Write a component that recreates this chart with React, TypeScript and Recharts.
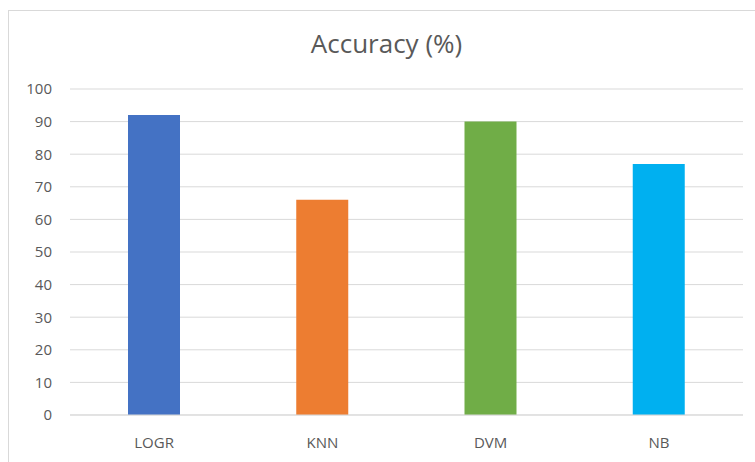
import React from "react";
import { BarChart, Bar, XAxis, YAxis, CartesianGrid, Cell } from "recharts";

const categories = ["LOGR", "KNN", "DVM", "NB"];
const accuracy = [92, 66, 90, 77];
const colors = ["#4472C4", "#ED7D31", "#70AD47", "#00B0F0"];
const yTicks = [0, 10, 20, 30, 40, 50, 60, 70, 80, 90, 100];

const data = categories.map((name, i) => ({ name, value: accuracy[i] }));

const font = "'Open Sans', 'Liberation Sans', sans-serif";

export default function App() {
  return (
    <div style={{ position: "absolute", left: 0, top: 0, width: 755, height: 462, background: "#fff", fontFamily: font }}>
      <div
        style={{
          position: "absolute",
          left: 8,
          top: 10,
          width: 760,
          height: 460,
          borderLeft: "1px solid #d9d9d9",
          borderTop: "1px solid #d9d9d9",
        }}
      />
      <div
        style={{
          position: "absolute",
          left: 0,
          top: 25,
          width: 773,
          textAlign: "center",
          fontSize: 26,
          lineHeight: "normal",
          color: "#595959",
        }}
      >
        Accuracy (%)
      </div>
      <div style={{ position: "absolute", left: 0, top: 0 }}>
        <BarChart
          width={755}
          height={462}
          data={data}
          margin={{ top: 89, right: 12, bottom: 17, left: 30 }}
          barSize={52}
        >
          <CartesianGrid vertical={false} stroke="#d9d9d9" strokeWidth={1} />
          <XAxis
            dataKey="name"
            axisLine={{ stroke: "#d9d9d9" }}
            tickLine={false}
            tickSize={0}
            tickMargin={22}
            height={30}
            tick={{ fill: "#595959", fontSize: 15, fontFamily: font }}
          />
          <YAxis
            domain={[0, 100]}
            ticks={yTicks}
            interval={0}
            axisLine={false}
            tickLine={false}
            tickSize={0}
            tickMargin={18}
            width={40}
            tick={{ fill: "#595959", fontSize: 15, fontFamily: font }}
          />
          <Bar dataKey="value" isAnimationActive={false}>
            {data.map((d, i) => (
              <Cell key={d.name} fill={colors[i]} />
            ))}
          </Bar>
        </BarChart>
      </div>
    </div>
  );
}
